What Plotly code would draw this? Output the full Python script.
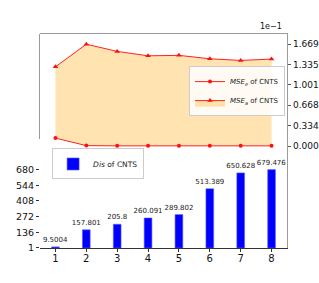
import plotly.graph_objects as go

# ---- data ----
steps = [1, 2, 3, 4, 5, 6, 7, 8]
dis_values = [9.5004, 157.801, 205.8, 260.091, 289.802, 513.389, 650.628, 679.476]
dis_labels = ["9.5004", "157.801", "205.8", "260.091", "289.802", "513.389", "650.628", "679.476"]
mse_e = [0.0131, 0.0008, 0.0004, 0.0004, 0.0004, 0.0004, 0.0004, 0.0004]
mse_a = [0.1298, 0.1669, 0.1551, 0.1479, 0.1486, 0.1430, 0.1403, 0.1425]
mse_scale = 10  # right axis shown in units of 1e-1
right_tickvals = [0.0, 0.334, 0.668, 1.001, 1.335, 1.669]
right_ticktext = ["0.000", "0.334", "0.668", "1.001", "1.335", "1.669"]
left_tickvals = [1, 136, 272, 408, 544, 680]
left_ticktext = ["1", "136", "272", "408", "544", "680"]

FONT = "DejaVu Sans"
e_scaled = [v * mse_scale for v in mse_e]
a_scaled = [v * mse_scale for v in mse_a]

fig = go.Figure()

fig.add_trace(go.Bar(
    x=steps, y=dis_values, width=0.25, marker=dict(color="#0000ff", line=dict(color="#5a5aff", width=0.6)),
    text=dis_labels, textposition="outside", constraintext="none", cliponaxis=False,
    textfont=dict(family=FONT, size=7, color="#222"),
    name="<i>Dis</i> of CNTS", legend="legend2", xaxis="x", yaxis="y",
))

fig.add_trace(go.Scatter(
    x=steps, y=e_scaled, mode="lines+markers", name="<i>MSE<sub>e</sub></i> of CNTS",
    line=dict(color="#ff2020", width=1), marker=dict(symbol="circle", size=4, color="#ff1010"),
    yaxis="y2", xaxis="x", legend="legend",
))
fig.add_trace(go.Scatter(
    x=steps, y=a_scaled, mode="lines+markers", name="<i>MSE<sub>a</sub></i> of CNTS",
    line=dict(color="#ff2020", width=1), marker=dict(symbol="triangle-up", size=5, color="#ff1010"),
    fill="tonexty", fillcolor="rgba(255,165,0,0.3)",
    yaxis="y2", xaxis="x", legend="legend",
))
# helper traces so the partial left spine and the top spine get drawn
fig.add_trace(go.Scatter(x=[steps[0]], y=[0], mode="markers", marker=dict(opacity=0),
                         showlegend=False, hoverinfo="skip", xaxis="x", yaxis="y3"))
fig.add_trace(go.Scatter(x=[steps[0]], y=[0], mode="markers", marker=dict(opacity=0),
                         showlegend=False, hoverinfo="skip", xaxis="x2", yaxis="y"))

fig.update_layout(
    template="none",
    width=319, height=283,
    margin=dict(l=40, r=32, t=34, b=35, autoexpand=False),
    paper_bgcolor="white", plot_bgcolor="rgba(0,0,0,0)",
    font=dict(family=FONT, size=9.5, color="#111"),
    showlegend=True,
    xaxis=dict(range=[0.5, 8.5], tickvals=steps, ticks="outside", ticklen=3, tickwidth=0.8,
               tickcolor="#333", showline=True, linecolor="#333", linewidth=1, showgrid=False,
               zeroline=False, tickfont=dict(size=10), domain=[0, 1], automargin=False,
               ticklabelstandoff=-2),
    xaxis2=dict(overlaying="x", side="top", range=[0.5, 8.5], showline=True, linecolor="#9a9a9a",
                linewidth=1.3, showticklabels=False, ticks="", showgrid=False, zeroline=False,
                automargin=False),
    yaxis=dict(range=[0, 1855], tickvals=left_tickvals, ticktext=left_ticktext, ticks="outside",
               ticklen=3, tickwidth=0.8, tickcolor="#333", showline=False, showgrid=False,
               zeroline=False, domain=[0, 1], automargin=False),
    yaxis2=dict(overlaying="y", side="right", range=[-1.669, 1.836], tickvals=right_tickvals,
                ticktext=right_ticktext, ticks="outside", ticklen=3, tickwidth=0.8, tickcolor="#555",
                showline=True, linecolor="#9a9a9a", linewidth=1.3, showgrid=False, zeroline=False,
                automargin=False, tickfont=dict(size=9)),
    yaxis3=dict(domain=[0.51, 1], anchor="x", showline=True, linecolor="#9a9a9a", linewidth=1.3,
                showticklabels=False, ticks="", showgrid=False, zeroline=False, range=[0, 1],
                automargin=False),
    legend=dict(x=0.992, y=0.85, xanchor="right", yanchor="top", bgcolor="rgba(255,255,255,0.85)",
                bordercolor="#cccccc", borderwidth=1, font=dict(size=7, color="#222"),
                itemwidth=30, tracegroupgap=0, traceorder="normal"),
    legend2=dict(x=0.049, y=0.465, xanchor="left", yanchor="top", bgcolor="rgba(255,255,255,0.85)",
                 bordercolor="#cccccc", borderwidth=1, font=dict(size=7.5, color="#222"),
                 itemwidth=30),
    annotations=[dict(text="1e\u22121", xref="paper", yref="paper", x=1, y=1, xanchor="right",
                      yanchor="bottom", xshift=-3, yshift=1, showarrow=False,
                      font=dict(size=8, color="#111"))],
)

fig.write_html("out.html", config={"displayModeBar": False},
               post_script="document.body.style.margin='0';")
